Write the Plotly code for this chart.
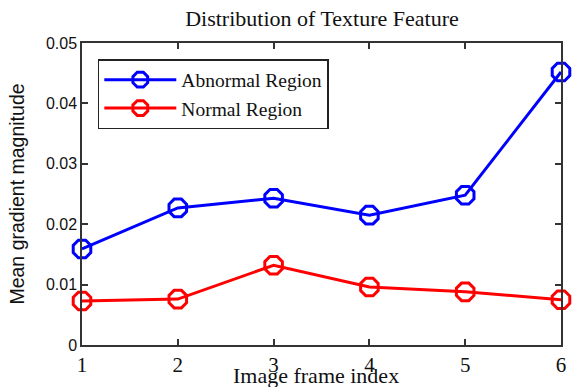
import plotly.graph_objects as go

# Frame indices and mean gradient magnitude per region
frames = [1, 2, 3, 4, 5, 6]
abnormal = [0.0159, 0.0227, 0.0243, 0.0215, 0.0248, 0.0452]
normal = [0.0073, 0.0076, 0.0132, 0.0096, 0.0088, 0.0075]
y_ticks = [0, 0.01, 0.02, 0.03, 0.04, 0.05]
y_tick_text = ["0", "0.01", "0.02", "0.03", "0.04", "0.05"]

SERIF = "Liberation Serif, Times New Roman, serif"
SANS = "Liberation Sans, Arial, sans-serif"
INK = "#111"

fig = go.Figure()
for name, vals, col in [("Abnormal Region", abnormal, "#0000FF"),
                        ("Normal Region", normal, "#FF0000")]:
    fig.add_trace(go.Scatter(
        x=frames, y=vals, mode="lines+markers", name=name,
        line=dict(color=col, width=3),
        marker=dict(symbol="octagon-open", size=19, color=col, line=dict(width=3)),
        cliponaxis=False,
    ))

axis_common = dict(
    showgrid=False, zeroline=False, showline=True, linecolor="#333", linewidth=1.5,
    mirror="allticks", ticks="inside", ticklen=6, tickcolor="#333", tickwidth=1.5,
)

fig.update_layout(
    width=576, height=387,
    margin=dict(l=82, r=10, t=43, b=42),
    paper_bgcolor="white", plot_bgcolor="white",
    font=dict(family=SERIF, color=INK),
    title=dict(text="Distribution of Texture Feature", x=0.559, xanchor="center",
               y=0.953, yanchor="middle", font=dict(family=SERIF, size=22, color=INK)),
    xaxis=dict(range=[1, 6], tickvals=frames, **axis_common,
               tickfont=dict(family=SERIF, size=21, color=INK)),
    yaxis=dict(range=[0, 0.05], tickvals=y_ticks, ticktext=y_tick_text, **axis_common,
               tickfont=dict(family=SANS, size=16, color=INK),
               title=dict(text="Mean gradient magnitude", standoff=16,
                          font=dict(family=SANS, size=19.5, color=INK))),
    legend=dict(x=0.033, y=0.947, xanchor="left", yanchor="top",
                bgcolor="white", bordercolor="#222", borderwidth=1.5,
                font=dict(family=SERIF, size=19.5, color=INK),
                itemwidth=72, tracegroupgap=0),
    showlegend=True,
)

# x-axis caption sits tight against the tick labels
fig.add_annotation(text="Image frame index", xref="paper", yref="paper",
                   x=0.488, y=-0.1, xanchor="center", yanchor="middle",
                   showarrow=False, font=dict(family=SERIF, size=22, color=INK))

fig.write_html("out.html")
